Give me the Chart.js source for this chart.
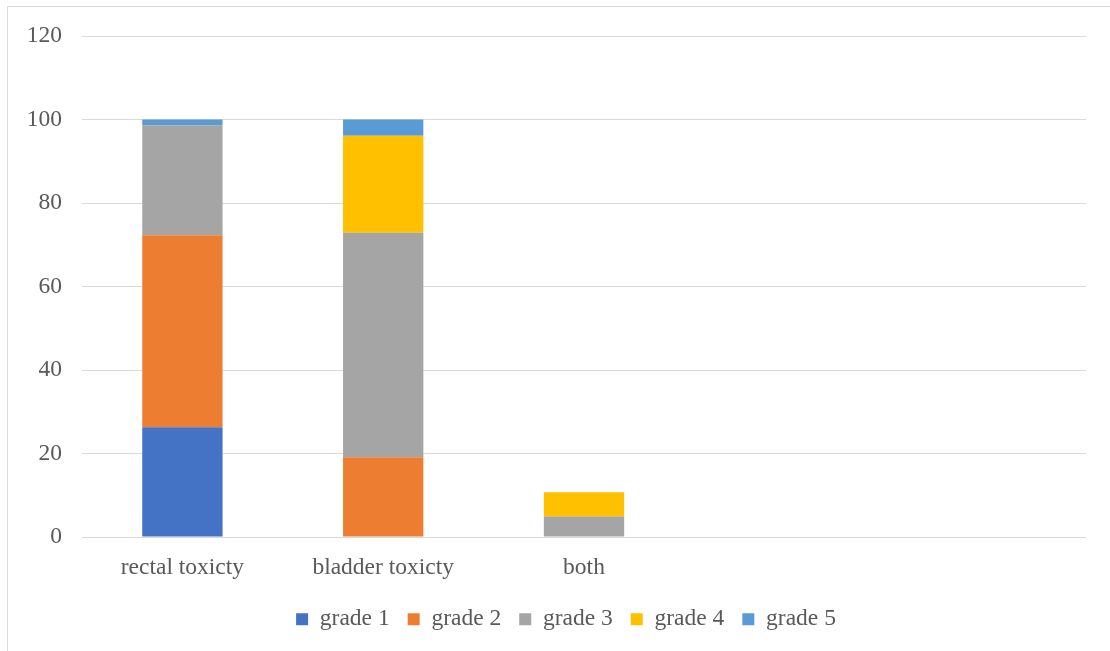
<!DOCTYPE html>
<html>
<head>
<meta charset="utf-8">
<script src="https://cdn.jsdelivr.net/npm/chart.js@4/dist/chart.umd.min.js"></script>
<style>
  html, body { margin: 0; padding: 0; background: #fff; }
  #frame {
    position: absolute; left: 7px; top: 6px; width: 1110px; height: 700px;
    border: 1px solid #d9d9d9; box-sizing: border-box;
  }
  #wrap { position: absolute; left: 0; top: 0; width: 1110px; height: 651px; }
</style>
</head>
<body>
<div id="frame"></div>
<div id="wrap"><canvas id="chart" width="1110" height="651"></canvas></div>
<script>
// categories (last two slots are empty in the sheet)
const categories = ['rectal toxicty', 'bladder toxicty', 'both', '', ''];

// percentage per grade, stacked per category
const grade1 = [26.3, null, null, null, null];
const grade2 = [46.0, 19.1, null, null, null];
const grade3 = [26.3, 53.8, 4.9, null, null];
const grade4 = [null, 23.2, 5.8, null, null];
const grade5 = [1.4, 3.9, null, null, null];

const seriesNames = ['grade 1', 'grade 2', 'grade 3', 'grade 4', 'grade 5'];
const seriesData = [grade1, grade2, grade3, grade4, grade5];

const yTicks = [0, 20, 40, 60, 80, 100, 120];

const COLORS = ['#4472C4', '#ED7D31', '#A5A5A5', '#FFC000', '#5B9BD5'];
const TEXT = '#595959';
const GRID = '#d9d9d9';
const FONT = "'Liberation Serif', 'Times New Roman', serif";
const FONT_SIZE = 23.5;

const datasets = seriesNames.map((name, i) => ({
  label: name,
  data: seriesData[i],
  backgroundColor: COLORS[i],
  borderWidth: 0,
  barPercentage: 0.4,
  categoryPercentage: 1.0,
  stack: 's'
}));

// nudge the legend so it sits under the plot area rather than the canvas
const legendShift = {
  id: 'legendShift',
  afterLayout(chart) {
    const lg = chart.legend;
    if (lg) { lg.left += 23; lg.right += 23; }
  }
};

new Chart(document.getElementById('chart'), {
  type: 'bar',
  data: { labels: categories, datasets: datasets },
  plugins: [legendShift],
  options: {
    responsive: false,
    animation: false,
    layout: { padding: { top: 36, right: 24, bottom: 10, left: 0 } },
    plugins: {
      tooltip: { enabled: false },
      legend: {
        position: 'bottom',
        labels: {
          color: TEXT,
          font: { family: FONT, size: FONT_SIZE },
          boxWidth: 12,
          boxHeight: 12,
          padding: 18
        }
      }
    },
    scales: {
      x: {
        stacked: true,
        grid: { display: false, drawTicks: false },
        border: { display: false },
        ticks: { color: TEXT, font: { family: FONT, size: FONT_SIZE }, padding: 17, maxRotation: 0 },
        afterFit: (s) => { s.height = 52.5; }
      },
      y: {
        stacked: true,
        min: 0,
        max: 120,
        afterBuildTicks: (s) => { s.ticks = yTicks.map(v => ({ value: v })); },
        grid: { color: GRID, lineWidth: 1, drawTicks: false },
        border: { display: false },
        ticks: { color: TEXT, font: { family: FONT, size: FONT_SIZE }, padding: 20 },
        afterFit: (s) => { s.width = 82; }
      }
    }
  }
});
</script>
</body>
</html>
